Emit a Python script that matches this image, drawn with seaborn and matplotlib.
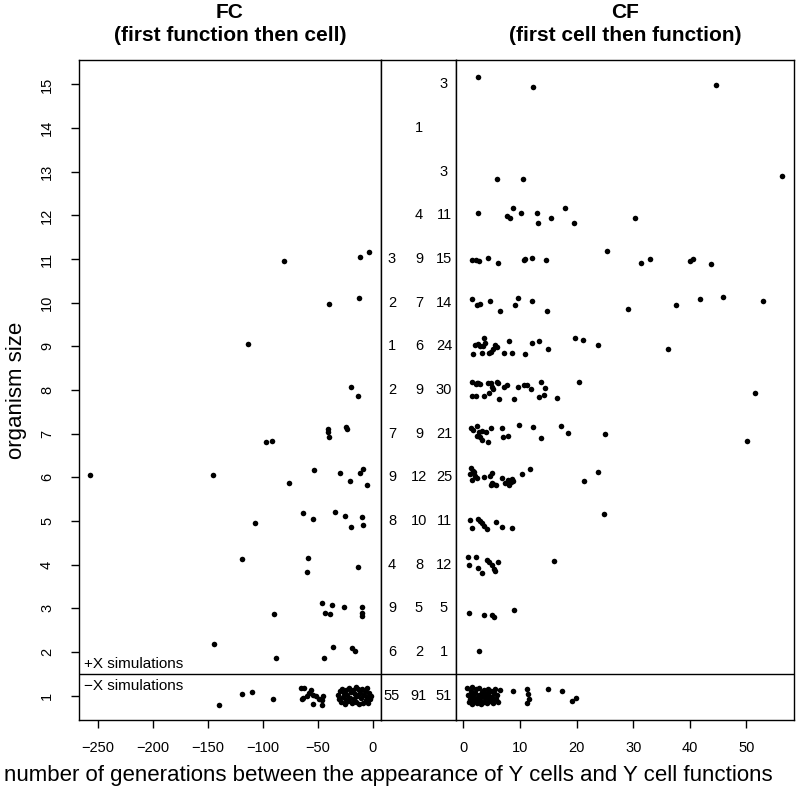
"""
Organism size vs. generations between appearance of Y cells and Y cell functions.

Left panel  : FC runs (function first, then cell)  -> negative generations
Middle strip: number of runs per size (FC | simultaneous | CF)
Right panel : CF runs (cell first, then function)  -> positive generations
"""

import matplotlib

matplotlib.use("Agg")
import matplotlib.pyplot as plt
import matplotlib.transforms as mtransforms
import seaborn as sns

sns.set_style("ticks")
plt.rcParams["font.family"] = ["Liberation Sans", "DejaVu Sans"]
plt.rcParams["text.color"] = "black"
plt.rcParams["xtick.color"] = "black"
plt.rcParams["ytick.color"] = "black"
plt.rcParams["axes.labelcolor"] = "black"

# ---------------------------------------------------------------- data
sizes = list(range(1, 16))
fc_n = [55, 6, 9, 4, 8, 9, 7, 2, 1, 2, 3, None, None, None, None]
same_n = [91, 2, 5, 8, 10, 12, 9, 9, 6, 7, 9, 4, None, 1, None]
cf_n = [51, 1, 5, 12, 11, 25, 21, 30, 24, 14, 15, 11, 3, None, 3]

# FC: generations (negative) and plotted size (jittered as in the figure)
fc_gens = [
    # size 1
    -139.4, -118.8, -109.5, -90.4,
    -65.2, -62.2, -63.6, -64.0, -57.9, -59.5, -54.0, -51.3, -49.1, -46.4,
    -45.5, -54.0, -46.1, -56.5,
    -31.5, -30.8, -29.9, -28.6, -27.8, -27.0, -26.1, -25.2, -24.6, -23.8,
    -22.9, -22.0, -21.3, -20.5, -19.7, -18.8, -18.0, -17.2, -16.4, -15.5,
    -14.8, -14.0, -13.1, -12.3, -11.5, -10.6, -9.8, -9.0, -8.1, -7.3,
    -6.5, -5.6, -4.8, -4.0, -3.1, -2.4, -1.5,
    # size 2
    -144.0, -88.2, -44.5, -36.1, -18.8, -15.8,
    # size 3
    -89.7, -45.8, -36.7, -43.6, -39.1, -26.1, -9.5, -9.7, -9.7,
    # size 4
    -118.8, -59.1, -59.7, -13.4,
    # size 5
    -107.0, -63.1, -54.3, -34.3, -25.2, -20.0, -9.5, -9.1,
    # size 6
    -256.7, -145.5, -75.8, -53.4, -29.5, -20.9, -11.3, -8.5, -4.9,
    # size 7
    -40.4, -40.4, -39.5, -24.5, -23.1, -96.7, -91.5,
    # size 8
    -20.0, -13.1,
    # size 9
    -113.6,
    # size 10
    -39.5, -12.2,
    # size 11
    -80.4, -11.8, -3.1,
]
fc_size = [
    0.79, 1.03, 1.08, 0.91,
    1.18, 1.18, 0.95, 0.93, 1.07, 0.98, 1.02, 0.98, 0.93, 0.90,
    0.98, 0.81, 0.79, 1.12,
    1.02, 0.93, 1.10, 0.85, 1.15, 0.97, 1.06, 0.81, 0.90, 1.13,
    1.01, 0.87, 1.18, 0.95, 1.08, 0.83, 1.12, 0.92, 1.04, 1.19,
    0.86, 0.99, 1.14, 0.80, 1.07, 0.94, 1.16, 0.84, 1.01, 1.11,
    0.89, 0.97, 1.17, 0.82, 1.05, 0.91, 1.00,
    2.19, 1.85, 1.86, 2.12, 2.08, 2.03,
    2.87, 3.12, 3.07, 2.89, 2.86, 3.04, 3.02, 2.89, 2.82,
    4.13, 4.15, 3.83, 3.95,
    4.95, 5.19, 5.05, 5.20, 5.11, 4.86, 5.08, 4.91,
    6.05, 6.05, 5.88, 6.17, 6.10, 5.91, 6.09, 6.18, 5.82,
    7.10, 7.04, 6.93, 7.16, 7.10, 6.80, 6.83,
    8.06, 7.86,
    9.05,
    9.98, 10.11,
    10.95, 11.05, 11.17,
]

# CF: generations (positive) and plotted size
cf_gens = [
    # size 1
    15.0, 17.4, 19.2, 19.9, 11.2, 11.4, 11.6, 11.3, 8.8,
    0.7, 0.9, 1.0, 1.2, 1.3, 1.5, 1.6, 1.8, 1.9, 2.1, 2.2, 2.4, 2.5, 2.7,
    2.8, 3.0, 3.1, 3.3, 3.4, 3.6, 3.7, 3.9, 4.0, 4.2, 4.3, 4.5, 4.6, 4.8,
    4.9, 5.1, 5.3, 5.4, 5.6, 5.8, 6.0, 6.2, 6.4, 3.2, 2.0, 4.4, 5.0, 1.4,
    # size 2
    2.77,
    # size 3
    1.0, 3.65, 5.01, 5.42, 8.95,
    # size 4
    0.77, 2.24, 0.95, 2.65, 3.25, 4.24, 4.59, 5.42, 5.59, 6.12, 16.06, 5.0,
    # size 5
    1.18, 1.48, 2.54, 2.95, 3.36, 3.71, 4.13, 5.72, 6.78, 8.65, 24.9,
    # size 6
    1.36, 1.76, 1.18, 2.06, 1.48, 3.71, 4.71, 5.12, 4.83, 5.29, 5.72,
    6.78, 7.83, 8.42, 8.82, 8.06, 10.3, 11.83, 21.3, 23.8,
    1.9, 2.5, 5.0, 7.3, 8.6,
    # size 7
    1.36, 1.76, 2.36, 2.77, 3.25, 3.95, 2.36, 2.95, 3.36, 4.41, 4.83,
    6.78, 7.06, 7.83, 9.88, 12.35, 13.66, 17.24, 18.42, 25.06, 50.1,
    # size 8
    1.6, 2.24, 2.65, 2.95, 4.41, 4.89, 5.12, 5.29, 5.89, 6.07, 4.59,
    1.48, 2.19, 3.71, 6.3, 7.24, 7.76, 8.95, 9.7, 10.71, 11.19, 11.95,
    13.66, 14.42, 13.41, 14.24, 16.48, 20.42, 51.5, 2.4,
    # size 9
    1.66, 2.06, 2.65, 2.95, 3.6, 3.83, 3.25, 4.53, 4.83, 5.18, 5.59, 5.95,
    7.24, 8.54, 8.0, 10.89, 12.18, 13.41, 14.9, 19.7, 21.07, 23.8, 36.2,
    3.4,
    # size 10
    1.6, 2.47, 2.95, 4.65, 6.53, 9.18, 9.6, 12.07, 14.82, 29.1, 37.6,
    41.8, 45.95, 52.94,
    # size 11
    1.48, 2.24, 2.83, 4.3, 6.12, 10.77, 10.94, 12.12, 14.6, 25.36, 31.4,
    32.95, 40.0, 40.6, 43.76,
    # size 12
    2.54, 7.66, 8.24, 8.82, 10.23, 13.06, 13.13, 15.42, 17.95, 19.6, 30.3,
    # size 13
    6.0, 10.53, 56.2,
    # size 15
    2.65, 12.35, 44.7,
]
cf_size = [
    1.16, 1.11, 0.87, 0.94, 1.15, 1.04, 0.93, 0.84, 1.10,
    1.17, 1.02, 0.85, 0.93, 1.10, 0.80, 1.19, 0.97, 0.88, 1.06, 1.14,
    0.83, 0.95, 1.01, 1.18, 0.90, 0.81, 1.08, 0.99, 1.13, 0.86, 0.94,
    1.04, 0.82, 1.16, 0.92, 1.00, 0.87, 1.11, 0.96, 0.83, 1.07, 1.15,
    0.91, 1.02, 0.86, 1.12, 1.00, 0.91, 1.06, 0.90, 1.01,
    2.02,
    2.90, 2.84, 2.84, 2.81, 2.96,
    4.18, 4.18, 3.98, 3.93, 3.81, 4.11, 4.07, 3.89, 3.85, 4.05, 4.08, 4.00,
    5.02, 4.83, 5.04, 5.01, 4.95, 4.89, 4.81, 4.98, 4.86, 4.84, 5.16,
    6.21, 6.15, 6.08, 6.03, 5.94, 6.00, 6.03, 6.11, 5.82, 5.84, 5.82,
    5.98, 5.94, 5.90, 5.92, 5.82, 6.08, 6.18, 5.92, 6.13,
    6.12, 5.98, 5.88, 5.86, 5.95,
    7.12, 7.08, 7.17, 7.04, 7.06, 7.03, 6.95, 6.92, 6.85, 6.82, 7.12,
    7.12, 6.93, 6.95, 7.19, 7.15, 6.89, 7.18, 7.01, 6.99, 6.84,
    8.19, 8.14, 8.15, 8.13, 8.15, 8.15, 8.08, 8.02, 8.19, 8.15, 7.94,
    7.87, 7.87, 7.87, 7.80, 8.06, 8.11, 7.80, 8.07, 8.11, 8.11, 8.02,
    8.18, 8.04, 7.83, 7.88, 7.81, 8.18, 7.93, 8.16,
    8.82, 9.04, 9.05, 9.01, 9.20, 9.08, 8.84, 8.84, 8.88, 8.95, 9.03, 8.98,
    8.84, 8.84, 9.13, 8.82, 9.07, 9.12, 8.93, 9.18, 9.15, 9.02, 8.94,
    9.00,
    10.08, 9.94, 9.96, 10.04, 9.82, 9.95, 10.11, 10.04, 9.81, 9.85, 9.95,
    10.09, 10.14, 10.03,
    10.98, 10.98, 10.96, 11.02, 10.90, 10.97, 10.99, 11.02, 10.98, 11.19,
    10.92, 10.99, 10.96, 11.00, 10.89,
    12.05, 11.99, 11.93, 12.17, 12.05, 12.05, 11.82, 11.95, 12.17, 11.82,
    11.94,
    12.83, 12.83, 12.90,
    15.17, 14.95, 14.99,
]

# ---------------------------------------------------------------- layout
W, H = 800, 798
TOP, BOTTOM = 60, 720  # pixel rows of the plot frame

fig = plt.figure(figsize=(W / 100, H / 100), dpi=100)


def _axes(x0: float, x1: float) -> plt.Axes:
    """Axes spanning pixel columns x0..x1 of the common frame."""
    return fig.add_axes([x0 / W, 1 - BOTTOM / H, (x1 - x0) / W, (BOTTOM - TOP) / H])


ax_fc = _axes(79, 380.7)
ax_mid = _axes(380.7, 455.7)
ax_cf = _axes(455.7, 794)

for ax in (ax_fc, ax_mid, ax_cf):
    ax.set_ylim(0.44, 15.56)
    for sp in ax.spines.values():
        sp.set_visible(True)
        sp.set_color("black")
        sp.set_linewidth(1.0)
    ax.axhline(1.5, color="black", linewidth=1.0)
    ax.tick_params(length=6, width=1.0, color="black", labelsize=10.5)

# left panel
sns.scatterplot(x=fc_gens, y=fc_size, ax=ax_fc, color="black", s=16,
                linewidth=0, legend=False)
ax_fc.set_xlim(-267, 7.3)
ax_fc.set_xticks(range(-250, 1, 50))
ax_fc.set_yticks(sizes)
ax_fc.set_yticklabels([str(s) for s in sizes], rotation=90, va="center")
ax_fc.tick_params(axis="x", pad=9)
ax_fc.tick_params(axis="y", pad=12)
ax_fc.set_ylabel("organism size", fontsize=16, labelpad=9)
ax_fc.set_title("FC\n(first function then cell)", fontsize=15,
                fontweight="bold", pad=14, linespacing=1.25)

mixed = mtransforms.blended_transform_factory(ax_fc.transAxes, ax_fc.transData)
ax_fc.text(0.017, 1.72, "+X simulations", transform=mixed,
           ha="left", va="center", fontsize=11)
ax_fc.text(0.017, 1.23, "\u2212X simulations", transform=mixed,
           ha="left", va="center", fontsize=11)

# middle strip with counts
ax_mid.set_xlim(0, 1)
ax_mid.set_xticks([])
ax_mid.set_yticks([])
for counts, xpos in ((fc_n, 0.15), (same_n, 0.51), (cf_n, 0.844)):
    for size, n in zip(sizes, counts):
        if n is not None:
            ax_mid.text(xpos, size, str(n), ha="center", va="center",
                        fontsize=10.5)

# right panel
sns.scatterplot(x=cf_gens, y=cf_size, ax=ax_cf, color="black", s=16,
                linewidth=0, legend=False)
ax_cf.set_xlim(-1.34, 58.4)
ax_cf.set_xticks(range(0, 51, 10))
ax_cf.set_yticks([])
ax_cf.set_ylabel("")
ax_cf.tick_params(axis="x", pad=9)
ax_cf.set_title("CF\n(first cell then function)", fontsize=15,
                fontweight="bold", pad=14, linespacing=1.25)

fig.text(0.485, 1 - 776 / H,
         "number of generations between the appearance of Y cells and Y cell functions",
         ha="center", va="center", fontsize=16)

fig.savefig("out.png", dpi=100)
plt.close(fig)
